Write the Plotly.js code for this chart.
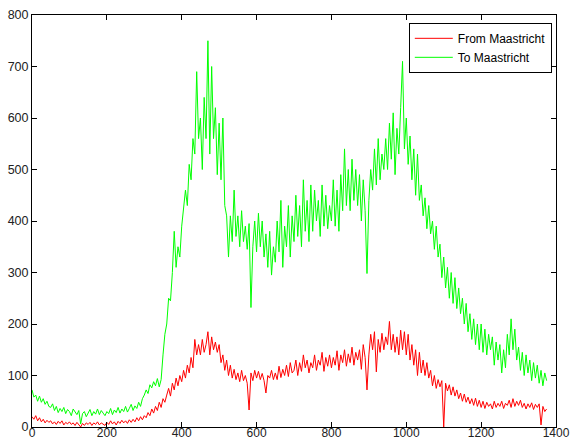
<!DOCTYPE html>
<html>
<head>
<meta charset="utf-8">
<script src="https://cdn.plot.ly/plotly-3.0.1.min.js"></script>
<style>html,body{margin:0;padding:0;background:#fff;}#chart{width:570px;height:441px;}</style>
</head>
<body>
<div id="chart"></div>
<script>
// x positions (step 5) and values
const xStart = 0, xStep = 5;
const seriesNames = ["From Maastricht", "To Maastricht"];
const fromMaastricht = [
20,15,22,12,18,10,15,8,13,9,
12,6,10,5,11,7,12,4,9,6,
10,5,8,3,9,4,0,7,3,8,
5,9,3,8,5,10,4,8,6,3,
9,5,12,6,10,4,11,7,13,8,
12,7,14,9,15,10,18,12,20,14,
22,18,28,22,35,27,40,32,48,38,
55,48,62,75,60,85,72,95,80,100,
88,110,95,120,105,135,115,170,140,160,
140,170,145,160,185,140,175,150,165,145,
160,125,140,110,130,100,120,95,112,92,
105,88,110,90,100,85,33,105,90,110,
95,108,92,104,90,66,100,95,110,92,
105,92,118,96,112,100,120,98,125,105,
110,130,100,125,108,140,115,130,105,125,
115,140,110,130,120,145,108,135,118,140,
115,135,120,148,110,140,125,150,118,142,
125,155,120,145,130,150,112,160,135,72,
140,180,150,185,107,170,145,182,150,175,
160,205,150,180,145,175,140,188,150,185,
140,180,130,160,120,150,100,145,105,130,
100,125,95,110,80,100,75,92,78,90,
0,85,70,82,62,78,60,72,55,66,
50,64,48,58,45,55,42,56,40,52,
38,50,36,48,40,45,35,50,38,46,
40,50,36,46,42,52,38,55,40,50,
42,52,38,46,35,45,38,47,34,44,
38,45,4,40,30,35
];
const toMaastricht = [
72,58,62,50,60,48,55,44,50,40,
38,45,32,40,28,36,30,38,26,34,
30,22,35,28,24,32,6,26,30,20,
28,34,22,30,25,35,24,32,27,22,
30,26,36,24,33,28,38,27,35,30,
40,29,36,44,32,41,36,48,40,55,
62,72,65,82,76,88,80,94,78,92,
140,180,200,250,245,300,380,310,350,330,
390,420,460,430,510,480,560,530,690,560,
600,500,640,560,750,530,700,560,620,490,
590,480,600,430,410,330,410,360,460,370,
410,350,420,360,390,345,395,232,350,400,
340,415,350,400,330,375,310,380,295,350,
320,400,340,440,310,390,350,430,330,410,
360,450,370,430,350,480,380,440,360,470,
380,460,400,440,370,470,390,450,385,430,
400,480,390,460,380,490,420,540,430,500,
420,520,440,500,430,490,400,480,420,298,
440,500,460,540,470,560,480,530,500,560,
500,590,520,610,490,580,530,620,710,540,
600,510,565,480,540,450,530,440,470,410,
445,385,430,375,400,345,390,330,355,290,
330,270,310,250,300,240,290,230,270,220,
250,200,240,185,220,170,210,160,200,150,
200,145,190,140,180,150,175,120,165,130,
160,105,150,115,180,140,210,150,190,130,
155,110,145,100,140,105,130,90,125,95,
120,85,110,80,105,90
];
const xTicks = [0,200,400,600,800,1000,1200,1400];
const yTicks = [0,100,200,300,400,500,600,700,800];

const xs = fromMaastricht.map((_, i) => xStart + i * xStep);

const traces = [
  {x: xs, y: fromMaastricht, name: seriesNames[0], type: 'scatter', mode: 'lines',
   line: {color: '#ff0000', width: 1}},
  {x: xs, y: toMaastricht, name: seriesNames[1], type: 'scatter', mode: 'lines',
   line: {color: '#00ff00', width: 1}}
];

const fontFam = 'Liberation Sans, Arial, Helvetica, sans-serif';
const axisCommon = {
  showgrid: false, zeroline: false, showline: true, mirror: 'ticks',
  linecolor: '#000', linewidth: 1, ticks: 'inside', ticklen: 5, tickcolor: '#000',
  tickfont: {family: fontFam, size: 12.5, color: '#222'}
};

const layout = {
  width: 570, height: 441,
  margin: {l: 32, r: 14, t: 15, b: 14},
  paper_bgcolor: '#fff', plot_bgcolor: '#fff',
  showlegend: true,
  legend: {x: 0.992, xanchor: 'right', y: 0.981, yanchor: 'top',
    bordercolor: '#000', borderwidth: 1, bgcolor: '#fff',
    font: {family: fontFam, size: 12, color: '#000'},
    tracegroupgap: 0, itemwidth: 38},
  xaxis: Object.assign({}, axisCommon, {range: [0, 1400], tickvals: xTicks, ticktext: xTicks.map(String),
    ticklabelstandoff: -5, tickfont: {family: fontFam, size: 12, color: '#222'}}),
  yaxis: Object.assign({}, axisCommon, {range: [0, 800], tickvals: yTicks, ticktext: yTicks.map(String)})
};

Plotly.newPlot('chart', traces, layout, {displayModeBar: false, staticPlot: true});
</script>
</body>
</html>
